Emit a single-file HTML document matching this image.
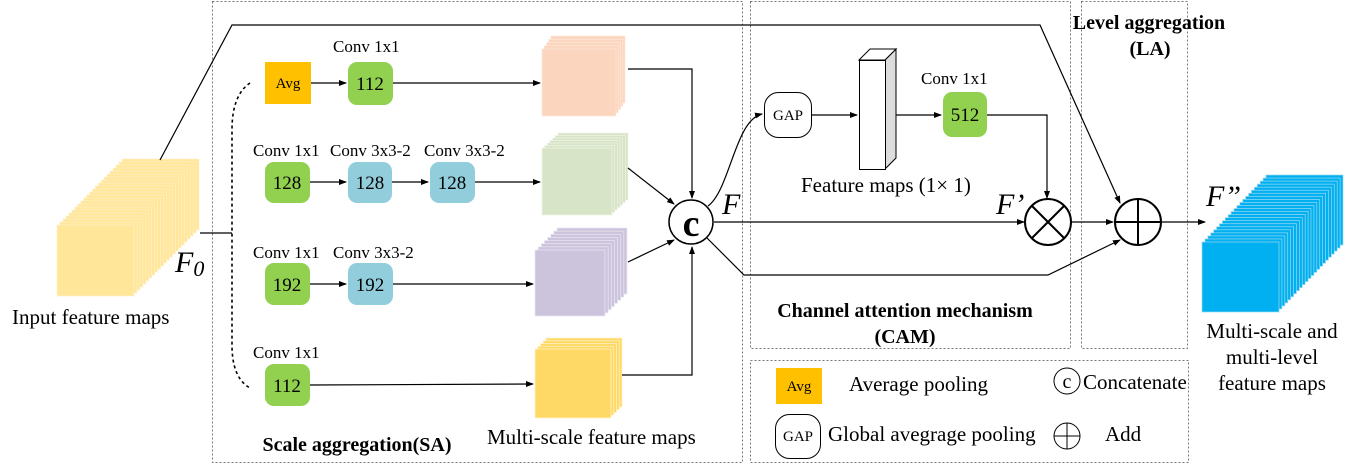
<!DOCTYPE html>
<html><head><meta charset="utf-8"><style>
body{margin:0;background:#fff;}
svg{display:block;font-family:"Liberation Serif",serif;}
</style></head><body>
<svg id="s" width="1356" height="467" viewBox="0 0 1356 467" xmlns="http://www.w3.org/2000/svg">
<defs>
<marker id="a" markerWidth="8" markerHeight="8" refX="7" refY="4" orient="auto" markerUnits="userSpaceOnUse"><path d="M0,1 L8,4 L0,7 z" fill="#000"/></marker>
</defs>
<g fill="none" stroke="#777" stroke-dasharray="2,2" stroke-width="1">
<rect x="212.5" y="1.5" width="530" height="461"/>
<rect x="750.5" y="1.5" width="320" height="347"/>
<rect x="1081.5" y="1.5" width="106" height="347"/>
<rect x="750.5" y="360.5" width="438" height="102"/>
</g>
<g id="stacks"></g>
<g stroke="#000" stroke-width="1.2" fill="none">
<polyline points="160,160 232,25 1040,25 1120,203" marker-end="url(#a)"/>
<line x1="200" y1="233" x2="232" y2="233"/>
<path d="M250,83 Q232,95 232,130 L232,345 Q232,378 250,388" stroke-dasharray="3,3" stroke-width="1.6"/>
<line x1="311" y1="83" x2="346" y2="83" marker-end="url(#a)"/>
<line x1="393" y1="83" x2="540" y2="83" marker-end="url(#a)"/>
<line x1="310" y1="182" x2="346" y2="182" marker-end="url(#a)"/>
<line x1="392" y1="182" x2="428" y2="182" marker-end="url(#a)"/>
<line x1="475" y1="182" x2="540" y2="182" marker-end="url(#a)"/>
<line x1="310" y1="284" x2="346" y2="284" marker-end="url(#a)"/>
<line x1="393" y1="284" x2="533" y2="284" marker-end="url(#a)"/>
<line x1="310" y1="385" x2="533" y2="384" marker-end="url(#a)"/>
<polyline points="628,69 692,69 692,198" marker-end="url(#a)"/>
<polyline points="622,375 692,375 692,247" marker-end="url(#a)"/>
<line x1="628" y1="168" x2="674" y2="204" marker-end="url(#a)"/>
<line x1="628" y1="262" x2="674" y2="240" marker-end="url(#a)"/>
<path d="M708,206 C730,190 735,120 762,114" marker-end="url(#a)"/>
<line x1="811" y1="115" x2="857" y2="115" marker-end="url(#a)"/>
<line x1="896" y1="115" x2="941" y2="115" marker-end="url(#a)"/>
<polyline points="987,115 1047,115 1047,198" marker-end="url(#a)"/>
<line x1="714" y1="222" x2="1024" y2="222" marker-end="url(#a)"/>
<line x1="1071" y1="222" x2="1113" y2="222" marker-end="url(#a)"/>
<line x1="1161" y1="222" x2="1205" y2="222" marker-end="url(#a)"/>
<polyline points="707,238 744,275 1048,275 1120,240" marker-end="url(#a)"/>
</g>
<rect x="265" y="62" width="46" height="42" fill="#ffc000"/>
<g fill="#92d050"><rect x="348" y="62" width="45" height="43" rx="9"/><rect x="265" y="162" width="45" height="41" rx="9"/><rect x="265" y="263" width="45" height="42" rx="9"/><rect x="265" y="364" width="45" height="42" rx="9"/><rect x="943" y="92" width="44" height="45" rx="9"/></g>
<g fill="#92cddc"><rect x="348" y="162" width="44" height="41" rx="9"/><rect x="430" y="162" width="45" height="41" rx="9"/><rect x="348" y="263" width="45" height="42" rx="9"/></g>
<rect x="764.5" y="92.5" width="47" height="45" rx="14" fill="#fff" stroke="#000"/>
<polygon points="885,60 896,49 896,158 885,169" fill="#ddd" stroke="#000"/>
<polygon points="859,60 870,49 896,49 885,60" fill="#fff" stroke="#000"/>
<rect x="859.5" y="60.5" width="26" height="109" fill="#fff" stroke="#000"/>
<circle cx="691" cy="222" r="22" fill="#fff" stroke="#000" stroke-width="1.5"/>
<text x="691" y="236" font-size="38" font-weight="bold" text-anchor="middle">c</text>
<g stroke="#000" stroke-width="2" fill="#fff">
<ellipse cx="1048" cy="222" rx="23" ry="23"/>
<line x1="1032" y1="206" x2="1064" y2="238"/><line x1="1064" y1="206" x2="1032" y2="238"/>
<ellipse cx="1138" cy="222" rx="23" ry="23"/>
<line x1="1115" y1="222" x2="1161" y2="222"/><line x1="1138" y1="199" x2="1138" y2="245"/>
</g>
<rect x="776" y="368" width="46" height="36" fill="#ffc000"/>
<rect x="775.5" y="414.5" width="45" height="44" rx="14" fill="#fff" stroke="#000"/>
<circle cx="1067" cy="381" r="13" fill="#fff" stroke="#000"/>
<text x="1067" y="388" font-size="20" text-anchor="middle">c</text>
<g stroke="#000" fill="none"><circle cx="1067" cy="436" r="13"/><line x1="1054" y1="436" x2="1080" y2="436"/><line x1="1067" y1="423" x2="1067" y2="449"/></g>
<g font-size="17" fill="#000">
<text x="333" y="52">Conv 1x1</text>
<text x="253" y="156">Conv 1x1</text><text x="330" y="156">Conv 3x3-2</text><text x="424" y="156">Conv 3x3-2</text>
<text x="253" y="258">Conv 1x1</text><text x="333" y="258">Conv 3x3-2</text>
<text x="253" y="358">Conv 1x1</text>
<text x="921" y="84">Conv 1x1</text>
<g text-anchor="middle" font-size="19">
<text x="370" y="90">112</text><text x="287" y="189">128</text><text x="370" y="189">128</text><text x="452" y="189">128</text>
<text x="287" y="291">192</text><text x="370" y="291">192</text><text x="287" y="392">112</text><text x="965" y="121">512</text>
</g>
<g text-anchor="middle" font-size="15"><text x="288" y="88">Avg</text><text x="788" y="120">GAP</text><text x="799" y="391">Avg</text><text x="798" y="441">GAP</text></g>
</g>
<g font-size="21">
<text x="12" y="324">Input feature maps</text>
<text x="487" y="444">Multi-scale feature maps</text>
<text x="801" y="192">Feature maps (1× 1)</text>
<text x="849" y="391">Average pooling</text>
<text x="828" y="441">Global avegrage pooling</text>
<text x="1083" y="389">Concatenate</text>
<text x="1105" y="441">Add</text>
<g text-anchor="middle"><text x="1272" y="338">Multi-scale and</text><text x="1272" y="364">multi-level</text><text x="1272" y="390">feature maps</text></g>
</g>
<g font-size="20" font-weight="bold" text-anchor="middle">
<text x="357" y="451">Scale aggregation(SA)</text>
<text x="905" y="317">Channel attention mechanism</text>
<text x="905" y="343">(CAM)</text>
<text x="1149" y="29">Level aggregation</text>
<text x="1150" y="55">(LA)</text>
</g>
<g font-style="italic" font-size="30">
<text x="175" y="272">F<tspan font-size="22" dy="4">0</tspan></text>
<text x="722" y="214">F</text>
<text x="996" y="214">F’</text>
<text x="1206" y="206">F”</text>
</g>
</svg>
<script>
var g=document.getElementById('stacks'),ns='http://www.w3.org/2000/svg';
function st(x,y,w,h,dx,dy,n,f,s){for(var i=n;i>=0;i--){var r=document.createElementNS(ns,'rect');r.setAttribute('x',x+dx*i/n);r.setAttribute('y',y+dy*i/n);r.setAttribute('width',w);r.setAttribute('height',h);r.setAttribute('fill',f);r.setAttribute('stroke',s);r.setAttribute('stroke-width','0.7');g.appendChild(r);}}
st(57,225,77,71,65,-66,22,'#ffe699','#fff2cc');
st(542,49,74,67,9,-13,4,'#fbd5bd','#fde9dc');
st(542,148,70,67,16,-15,6,'#d8e4c8','#eef4e6');
st(535,250,70,66,22,-22,7,'#ccc4dc','#ebe7f2');
st(535,349,76,69,11,-11,4,'#ffd966','#fff2cc');
st(1202,242,77,70,64,-67,22,'#00b0f0','#9dd9f3');
</script>
</body></html>
